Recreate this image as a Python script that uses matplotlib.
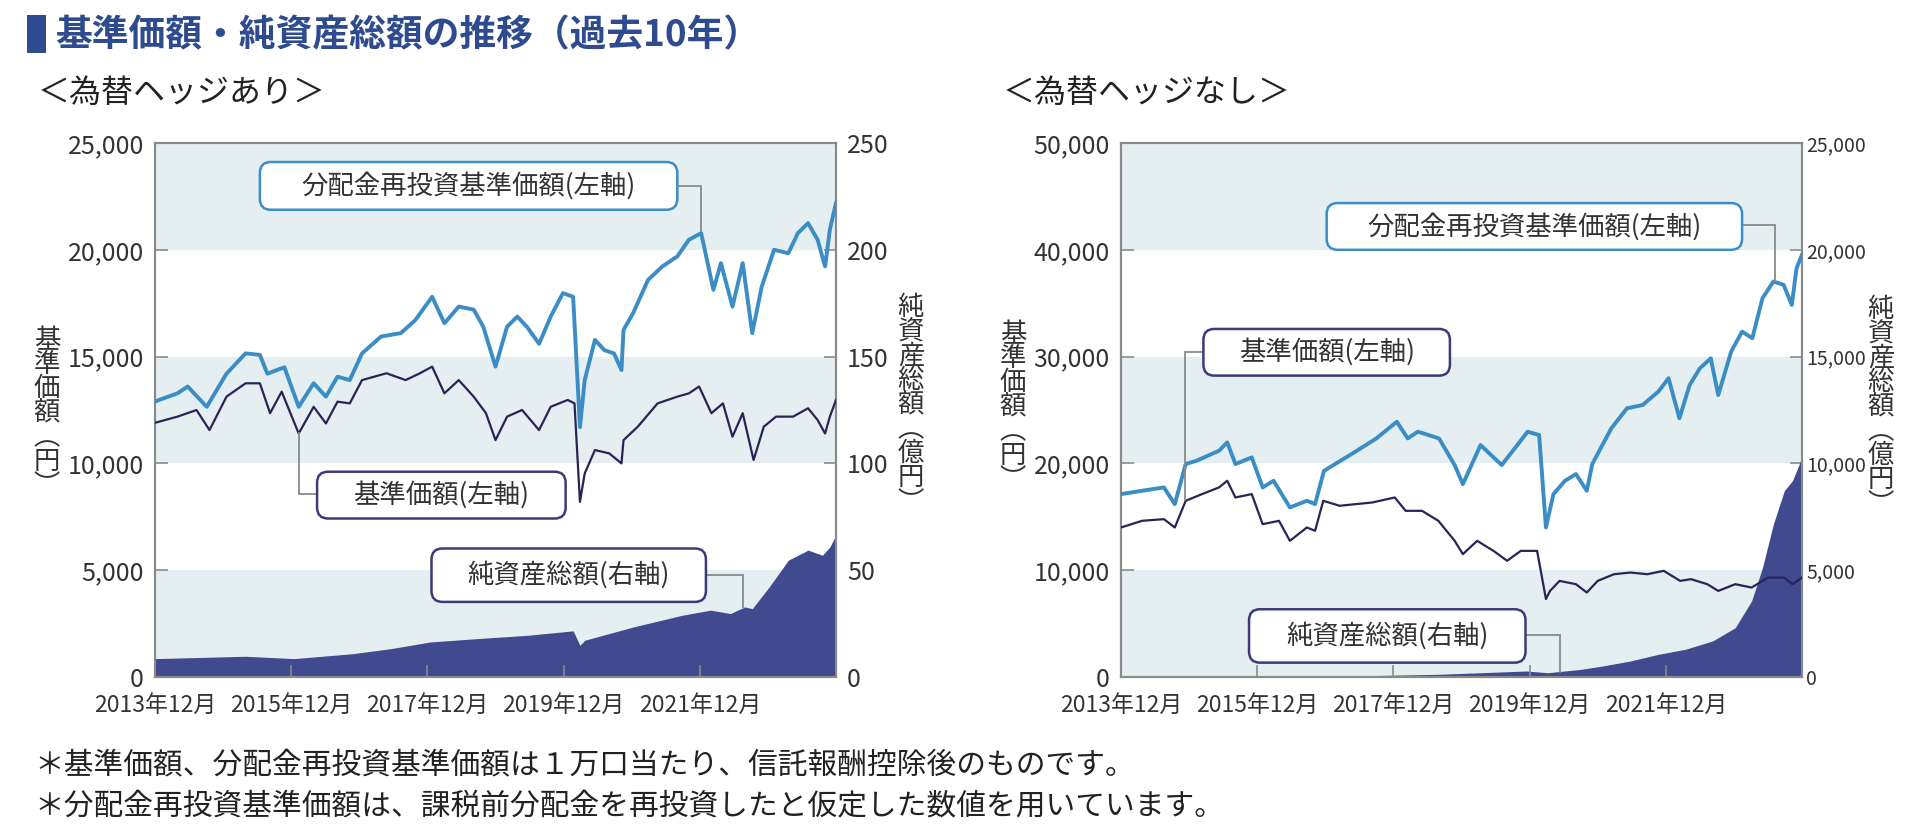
import numpy as np
import matplotlib.pyplot as plt
from matplotlib.patches import FancyBboxPatch, Rectangle
from matplotlib.transforms import IdentityTransform, blended_transform_factory

plt.rcParams['font.family'] = ['Noto Sans CJK JP', 'DejaVu Sans']

# ---------------- data (years counted from 2013/12) ----------------
date_ticks = [0, 2, 4, 6, 8]
date_labels = ['2013年12月', '2015年12月', '2017年12月', '2019年12月', '2021年12月']

# 為替ヘッジあり
h_reinv_t = [0.00, 0.33, 0.48, 0.76, 1.05, 1.33, 1.54, 1.65, 1.90, 2.11, 2.33, 2.51, 2.68, 2.86,
             3.04, 3.32, 3.61, 3.82, 4.07, 4.25, 4.46, 4.68, 4.82, 5.00, 5.17, 5.32, 5.46, 5.64,
             5.81, 5.99, 6.14, 6.24, 6.31, 6.46, 6.60, 6.74, 6.85, 6.88, 7.02, 7.24, 7.45, 7.67,
             7.84, 8.02, 8.20, 8.31, 8.48, 8.63, 8.77, 8.91, 9.09, 9.30, 9.44, 9.59, 9.73, 9.84,
             9.91, 10.00]
h_reinv_v = [12900, 13280, 13600, 12650, 14200, 15150, 15080, 14200, 14500, 12650, 13750, 13125,
             14060, 13900, 15150, 15940, 16100, 16700, 17800, 16560, 17340, 17200, 16400, 14530,
             16400, 16870, 16400, 15600, 16870, 17970, 17800, 11700, 13900, 15780, 15300, 15150,
             14370, 16250, 17030, 18590, 19220, 19690, 20470, 20780, 18125, 19375, 17340, 19375,
             16100, 18280, 20000, 19840, 20780, 21250, 20470, 19220, 20940, 22190]

h_nav_t = [0.00, 0.33, 0.61, 0.80, 1.05, 1.33, 1.54, 1.69, 1.86, 2.11, 2.33, 2.51, 2.68, 2.86,
           3.04, 3.40, 3.68, 3.89, 4.07, 4.25, 4.46, 4.68, 4.86, 5.00, 5.17, 5.39, 5.64, 5.81,
           6.06, 6.16, 6.24, 6.31, 6.46, 6.67, 6.85, 6.88, 7.09, 7.38, 7.67, 7.84, 7.99, 8.17,
           8.34, 8.48, 8.63, 8.79, 8.94, 9.12, 9.37, 9.59, 9.73, 9.84, 9.91, 10.00]
h_nav_v = [11900, 12190, 12500, 11560, 13125, 13750, 13750, 12350, 13360, 11400, 12650, 11870,
           12890, 12810, 13900, 14220, 13900, 14220, 14530, 13280, 13900, 13125, 12350, 11090,
           12190, 12500, 11560, 12650, 12970, 12810, 8200, 9530, 10625, 10470, 10000, 11090,
           11720, 12810, 13125, 13280, 13600, 12350, 12810, 11250, 12350, 10160, 11720, 12190,
           12190, 12580, 12030, 11400, 12190, 12970]

h_aum_t = [0.00, 1.33, 2.04, 2.90, 3.47, 4.04, 4.75, 5.46, 6.14, 6.24, 6.31, 7.02, 7.74, 8.16,
           8.45, 8.66, 8.77, 9.02, 9.30, 9.59, 9.80, 9.91, 10.00]
h_aum_v = [8.6, 9.7, 8.6, 10.9, 13.3, 16.4, 18.0, 19.5, 21.6, 14.8, 17.2, 23.4, 28.9, 31.3,
           29.7, 32.8, 32.0, 42.2, 54.7, 59.4, 57.0, 60.9, 66.4]

# 為替ヘッジなし
u_reinv_t = [0.00, 0.31, 0.63, 0.79, 0.95, 1.11, 1.44, 1.56, 1.68, 1.92, 2.08, 2.24, 2.48, 2.73,
             2.85, 2.98, 3.44, 3.75, 4.05, 4.21, 4.36, 4.67, 4.90, 5.02, 5.28, 5.59, 5.82, 5.97,
             6.14, 6.24, 6.35, 6.52, 6.68, 6.84, 6.92, 7.20, 7.43, 7.66, 7.89, 8.04, 8.20, 8.35,
             8.50, 8.66, 8.77, 8.96, 9.12, 9.27, 9.42, 9.58, 9.73, 9.85, 9.92, 10.00]
u_reinv_v = [17125, 17440, 17750, 16190, 19940, 20250, 21190, 21970, 19940, 20560, 17750, 18375,
             15875, 16500, 16190, 19300, 21090, 22340, 23900, 22340, 22970, 22340, 19840, 18060,
             21720, 19840, 21720, 22970, 22660, 14000, 17125, 18375, 19000, 17440, 19940, 23280,
             25160, 25470, 26720, 27970, 24220, 27340, 28900, 29840, 26400, 30470, 32340, 31720,
             35470, 37030, 36720, 34840, 38280, 39530]

u_nav_t = [0.00, 0.31, 0.63, 0.79, 0.95, 1.19, 1.44, 1.56, 1.68, 1.92, 2.08, 2.32, 2.48, 2.73,
           2.85, 2.97, 3.21, 3.45, 3.69, 4.02, 4.18, 4.42, 4.66, 4.90, 5.02, 5.23, 5.47, 5.67,
           5.87, 6.11, 6.24, 6.30, 6.44, 6.68, 6.84, 7.00, 7.24, 7.48, 7.73, 7.97, 8.21, 8.37,
           8.61, 8.77, 9.02, 9.26, 9.50, 9.74, 9.86, 10.00]
u_nav_v = [14000, 14625, 14780, 14000, 16500, 17125, 17750, 18375, 16810, 17125, 14310, 14625,
           12750, 14000, 13690, 16500, 16030, 16190, 16340, 16810, 15560, 15560, 14625, 12750,
           11500, 12750, 11810, 10880, 11810, 11810, 7300, 8060, 9000, 8690, 7910, 9000, 9625,
           9780, 9625, 9940, 9000, 9160, 8690, 8060, 8690, 8375, 9310, 9310, 8690, 9310]

u_aum_t = [0.00, 1.50, 2.50, 3.05, 4.66, 5.95, 6.27, 6.76, 7.08, 7.48, 7.89, 8.29, 8.69, 9.02,
           9.26, 9.42, 9.58, 9.74, 9.86, 9.94, 10.00]
u_aum_v = [5, 8, 15, 30, 125, 280, 200, 360, 520, 750, 1060, 1300, 1690, 2310, 3560, 5125, 7160,
           8720, 9190, 9810, 10300]

# ---------------- style ----------------
C_REINV = '#3a8dc5'
C_NAV = '#2a2356'
C_AUM = '#3f4a8f'
C_BOX = '#3d3a7a'
C_BAND = '#e5eef1'
C_AXIS = '#8a8a8a'
C_TEXT = '#333333'

W, H = 1922, 836
fig = plt.figure(figsize=(W / 100, H / 100), dpi=100)


def fx(px):
    return px / W


def fy(py):
    return 1 - py / H


def label_box(ax, x0, x1, y0, y1, text, ec):
    p0 = ax.transData.transform((x0, min(y0, y1)))
    p1 = ax.transData.transform((x1, max(y0, y1)))
    box = FancyBboxPatch((p0[0], p0[1]), p1[0] - p0[0], p1[1] - p0[1],
                         boxstyle='round,pad=0,rounding_size=11', transform=IdentityTransform(),
                         fc='white', ec=ec, lw=1.8, zorder=6, clip_on=False)
    ax.add_artist(box)
    ax.text((x0 + x1) / 2, (y0 + y1) / 2, text, ha='center', va='center', fontsize=19,
            color=C_TEXT, zorder=7)


def leader(ax, xs, ys):
    ax.plot(xs, ys, color=C_AXIS, lw=1.3, zorder=4, solid_joinstyle='miter')


def chart(left_px, ymax, ystep, ymax2, fmt2, fs2, pad2, reinv, nav, aum):
    ax = fig.add_axes([fx(left_px), fy(677), fx(681), 534 / H])
    ax2 = ax.twinx()
    ax.set_zorder(ax2.get_zorder() + 1)
    ax.patch.set_visible(False)

    ax.set_xlim(0, 10)
    ax.set_ylim(0, ymax)
    ax2.set_ylim(0, ymax2)

    # shaded bands
    tr = blended_transform_factory(ax2.transAxes, ax.transData)
    for lo in np.arange(0, ymax, 2 * ystep):
        ax2.add_patch(Rectangle((0, lo), 1, ystep, transform=tr, color=C_BAND, lw=0, zorder=0))

    ax2.fill_between(aum[0], 0, aum[1], color=C_AUM, lw=0, zorder=2)
    ax.plot(nav[0], nav[1], color=C_NAV, lw=1.6, zorder=3)
    ax.plot(reinv[0], reinv[1], color=C_REINV, lw=2.8, zorder=3)

    yt = np.arange(0, ymax + 1, ystep)
    ax.set_yticks(yt)
    ax.set_yticklabels(['{:,}'.format(int(v)) for v in yt], fontsize=18, color=C_TEXT)
    yt2 = np.linspace(0, ymax2, 6)
    ax2.set_yticks(yt2)
    ax2.set_yticklabels([fmt2.format(int(v)) for v in yt2], fontsize=fs2, color=C_TEXT)
    ax.set_xticks(date_ticks)
    ax.set_xticklabels(date_labels, fontsize=16.5, color=C_TEXT)

    for a in (ax, ax2):
        a.tick_params(direction='in', length=9, width=1.2, color=C_AXIS)
        for s in a.spines.values():
            s.set_color(C_AXIS)
            s.set_linewidth(1.5)
    ax.tick_params(axis='y', pad=8)
    ax.tick_params(axis='x', pad=12)
    ax2.tick_params(axis='y', pad=pad2)
    return ax, ax2


# ---------------- left: hedged ----------------
axL, axL2 = chart(155, 25000, 5000, 250, '{:d}', 18, 8,
                  (h_reinv_t, h_reinv_v), (h_nav_t, h_nav_v), (h_aum_t, h_aum_v))
label_box(axL, 1.54, 7.67, 24110, 21875, '分配金再投資基準価額(左軸)', C_REINV)
leader(axL, [7.67, 8.02, 8.02], [23000, 23000, 20900])
label_box(axL, 2.38, 6.03, 9610, 7420, '基準価額(左軸)', C_BOX)
leader(axL, [2.38, 2.11, 2.11], [8550, 8550, 11400])
label_box(axL, 4.06, 8.09, 6016, 3516, '純資産総額(右軸)', C_BOX)
leader(axL, [8.09, 8.63, 8.63], [4766, 4766, 3300])

# ---------------- right: unhedged ----------------
axR, axR2 = chart(1121, 50000, 10000, 25000, '{:,}', 14, 3,
                  (u_reinv_t, u_reinv_v), (u_nav_t, u_nav_v), (u_aum_t, u_aum_v))
label_box(axR, 3.02, 9.12, 44375, 40000, '分配金再投資基準価額(左軸)', C_REINV)
leader(axR, [9.12, 9.60, 9.60], [42280, 42280, 37100])
label_box(axR, 1.21, 4.83, 32590, 28220, '基準価額(左軸)', C_BOX)
leader(axR, [1.21, 0.94, 0.94], [30470, 30470, 16600])
label_box(axR, 1.88, 5.94, 6344, 1344, '純資産総額(右軸)', C_BOX)
leader(axR, [5.94, 6.44, 6.44], [3940, 3940, 500])

# ---------------- axis titles (vertical) ----------------
vl = dict(ha='center', va='center', fontsize=19, color=C_TEXT, linespacing=0.87)
fig.text(fx(47), fy(413), '基\n準\n価\n額\n︵\n円\n︶', **vl)
fig.text(fx(911), fy(405), '純\n資\n産\n総\n額\n︵\n億\n円\n︶', **vl)
fig.text(fx(1013), fy(407), '基\n準\n価\n額\n︵\n円\n︶', **vl)
fig.text(fx(1881), fy(407), '純\n資\n産\n総\n額\n︵\n億\n円\n︶', **vl)

# ---------------- headings ----------------
fig.patches.append(Rectangle((fx(27), fy(53)), 19 / W, 38 / H, transform=fig.transFigure,
                             color='#2d4b8e', lw=0))
fig.text(fx(55), fy(36), '基準価額・純資産総額の推移（過去10年）', fontsize=26.5, fontweight='bold',
         color='#2d4b8e', va='center', ha='left')
fig.text(fx(38), fy(93), '＜為替ヘッジあり＞', fontsize=23, color='#222222', va='center')
fig.text(fx(1003), fy(93), '＜為替ヘッジなし＞', fontsize=23, color='#222222', va='center')

fig.text(fx(34), fy(765), '＊基準価額、分配金再投資基準価額は１万口当たり、信託報酬控除後のものです。',
         fontsize=21.4, color='#222222', va='center')
fig.text(fx(34), fy(806), '＊分配金再投資基準価額は、課税前分配金を再投資したと仮定した数値を用いています。',
         fontsize=21.4, color='#222222', va='center')

fig.savefig('out.png', dpi=100)
